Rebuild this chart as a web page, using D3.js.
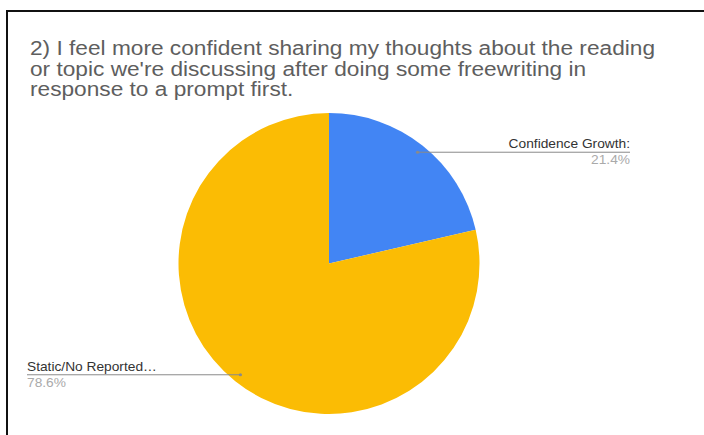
<!DOCTYPE html>
<html>
<head>
<meta charset="utf-8">
<script src="https://cdn.jsdelivr.net/npm/d3@7"></script>
<style>
  html, body { margin: 0; padding: 0; background: #fff; }
  svg { display: block; }
  text { font-family: Arial, "Liberation Sans", sans-serif; }
</style>
</head>
<body>
<script>
// Survey responses for question 2
const categories = ["Confidence Growth:", "Static/No Reported…"];
const values = [21.4, 78.6];
const sliceColors = ["#4285f4", "#fbbc04"];
const titleLines = [
  "2) I feel more confident sharing my thoughts about the reading",
  "or topic we're discussing after doing some freewriting in",
  "response to a prompt first."
];

const W = 704, H = 435;
const textStretch = 1.08;   // glyphs are drawn slightly wide
const svg = d3.select("body").append("svg").attr("width", W).attr("height", H);

// frame
svg.append("rect")
  .attr("x", 7).attr("y", 11)
  .attr("width", W + 20).attr("height", H + 20)
  .attr("fill", "#fff")
  .attr("stroke", "#111").attr("stroke-width", 2);

// title
svg.append("g").selectAll("text")
  .data(titleLines)
  .join("text")
  .attr("transform", (d, i) => `translate(30,${55 + i * 20.5}) scale(${textStretch},1)`)
  .attr("font-size", 21)
  .attr("fill", "#5e5e5e")
  .text(d => d);

// pie
const cx = 329, cy = 263.5, r = 150.5;
const pie = d3.pie().sort(null).value(d => d);
const arcs = pie(values);
const arc = d3.arc().innerRadius(0).outerRadius(r);

const g = svg.append("g").attr("transform", `translate(${cx},${cy})`);
g.selectAll("path")
  .data(arcs)
  .join("path")
  .attr("d", arc)
  .attr("fill", (d, i) => sliceColors[i]);

// leader lines and labels
const labelArc = d3.arc().innerRadius(r * 0.945).outerRadius(r * 0.945);
const labelX = [630, 27];
const labelStretch = 1.1;

arcs.forEach((a, i) => {
  const [px, py] = labelArc.centroid(a);
  const x0 = cx + px, y0 = cy + py;
  const right = i === 0;
  const lx = labelX[i];
  svg.append("line")
    .attr("x1", x0).attr("y1", y0)
    .attr("x2", lx).attr("y2", y0)
    .attr("stroke", "#8a8a8a").attr("stroke-width", 1);
  svg.append("circle")
    .attr("cx", x0).attr("cy", y0).attr("r", 1.6)
    .attr("fill", "#8a8a8a");
  svg.append("text")
    .attr("transform", `translate(${lx},${y0 - 4}) scale(${labelStretch},1)`)
    .attr("text-anchor", right ? "end" : "start")
    .attr("font-size", 12.5)
    .attr("fill", "#333")
    .text(categories[i]);
  svg.append("text")
    .attr("transform", `translate(${lx},${y0 + 12}) scale(${labelStretch},1)`)
    .attr("text-anchor", right ? "end" : "start")
    .attr("font-size", 12.5)
    .attr("fill", "#aaa")
    .text(values[i].toFixed(1) + "%");
});
</script>
</body>
</html>
